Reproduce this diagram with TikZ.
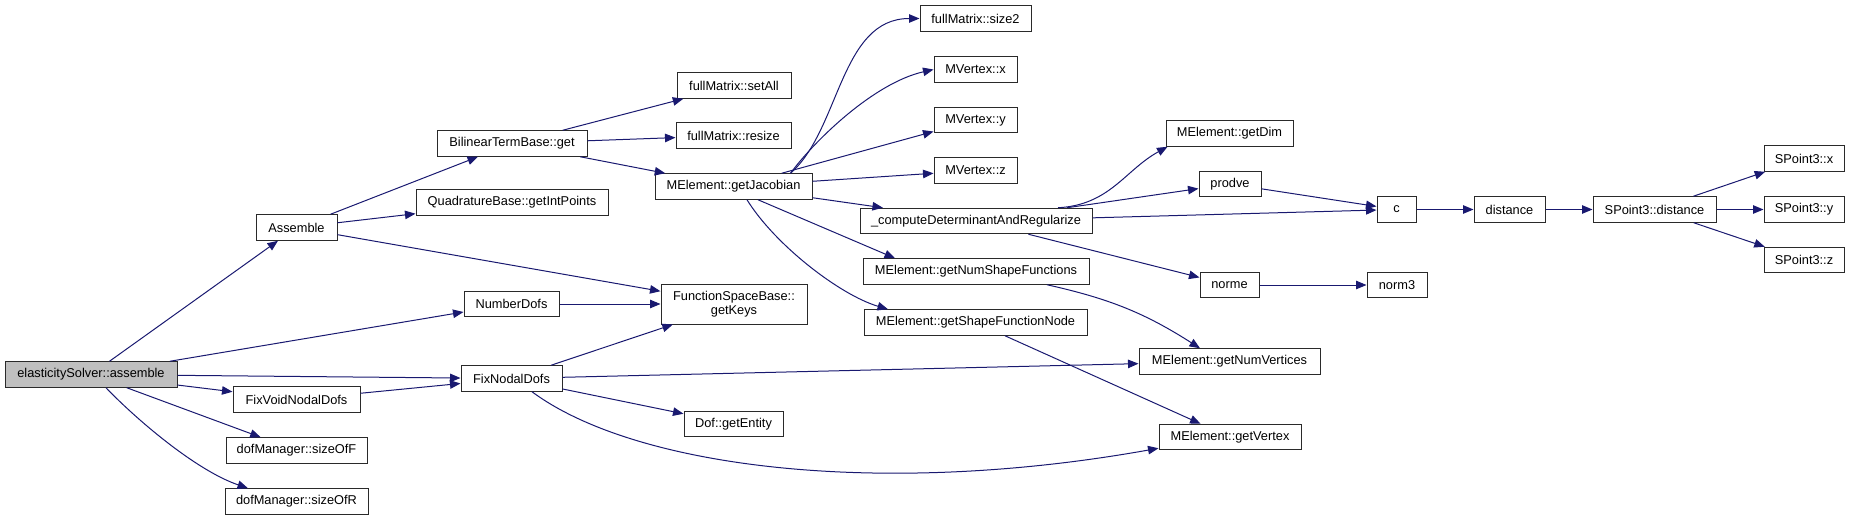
\documentclass[tikz,border=0pt]{standalone}
\usepackage{fontspec}
\setmainfont{Liberation Sans}
\usetikzlibrary{arrows.meta,calc}
\definecolor{cgEdge} {HTML}{191970}
\definecolor{cgFrame}{HTML}{2A2A2A}
\definecolor{cgRoot} {HTML}{BFBFBF}

\begin{document}
\begin{tikzpicture}[x=1pt,y=1pt,font=\fontsize{12.8}{14.5}\selectfont,
    fn/.style={draw=cgFrame,fill=white,line width=1pt,inner sep=0pt,
               minimum height=25.5pt,align=center},
    call/.style={draw=cgEdge,line width=1pt,-{Triangle[length=10.5pt,width=8.5pt]}}]
    \useasboundingbox (0,0) rectangle (1849,-520);

    % callers, left to right
    \node[fn,fill=cgRoot,minimum width=172pt] (root) at (91,-374.5) {elasticitySolver::assemble};
    \node[fn,minimum width=81pt]  (assemble) at (296.5,-227.5) {Assemble};
    \node[fn,minimum width=127pt] (fixvoid)  at (296.5,-399.5) {FixVoidNodalDofs};
    \node[fn,minimum width=141pt] (sizeF)    at (296.5,-450.5) {dofManager::sizeOfF};
    \node[fn,minimum width=143pt] (sizeR)    at (296.5,-501.5) {dofManager::sizeOfR};
    \node[fn,minimum width=150pt] (bilinear) at (512,-143.5)   {BilinearTermBase::get};
    \node[fn,minimum width=192pt] (quad)     at (512,-202.5)   {QuadratureBase::getIntPoints};
    \node[fn,minimum width=95pt]  (numdofs)  at (511.5,-304)   {NumberDofs};
    \node[fn,minimum width=101pt] (fixnodal) at (511.5,-378.5) {FixNodalDofs};
    \node[fn,minimum width=114pt] (setall)   at (734,-85.5)    {fullMatrix::setAll};
    \node[fn,minimum width=115pt] (resize)   at (733.5,-135.5) {fullMatrix::resize};
    \node[fn,minimum width=157pt] (jac)      at (733.5,-186.5) {MElement::getJacobian};
    \node[fn,minimum width=146pt,minimum height=40pt] (keys) at (734,-304) {FunctionSpaceBase::\\getKeys};
    \node[fn,minimum width=99pt]  (entity)   at (733.5,-424)   {Dof::getEntity};
    \node[fn,minimum width=111pt] (size2)    at (975.5,-18.5)  {fullMatrix::size2};
    \node[fn,minimum width=83pt]  (mvx)      at (975.5,-69.5)  {MVertex::x};
    \node[fn,minimum width=83pt]  (mvy)      at (975.5,-120)   {MVertex::y};
    \node[fn,minimum width=83pt]  (mvz)      at (975.5,-170.5) {MVertex::z};
    \node[fn,minimum width=232pt] (cdr)      at (976,-221)     {\_computeDeterminantAndRegularize};
    \node[fn,minimum width=226pt] (nsf)      at (976,-271.5)   {MElement::getNumShapeFunctions};
    \node[fn,minimum width=223pt] (sfn)      at (975.5,-322.5) {MElement::getShapeFunctionNode};
    \node[fn,minimum width=127pt] (getdim)   at (1229.5,-133.5) {MElement::getDim};
    \node[fn,minimum width=62pt]  (prodve)   at (1230,-184)    {prodve};
    \node[fn,minimum width=59pt]  (norme)    at (1229.5,-285)  {norme};
    \node[fn,minimum width=181pt] (nvert)    at (1229.5,-361.5) {MElement::getNumVertices};
    \node[fn,minimum width=142pt] (vert)     at (1230,-437)    {MElement::getVertex};
    \node[fn,minimum width=39pt]  (c)        at (1396.5,-209.5) {c};
    \node[fn,minimum width=60pt]  (norm3)    at (1397,-285)    {norm3};
    \node[fn,minimum width=71pt]  (dist)     at (1509.5,-209.5) {distance};
    \node[fn,minimum width=123pt] (spdist)   at (1654.5,-209.5) {SPoint3::distance};
    \node[fn,minimum width=80pt]  (spx)      at (1804,-158.5)  {SPoint3::x};
    \node[fn,minimum width=80pt]  (spy)      at (1804,-209.5)  {SPoint3::y};
    \node[fn,minimum width=80pt]  (spz)      at (1804,-260)    {SPoint3::z};

    % calls
    \draw[call] (root) -- (assemble);
    \draw[call] (root) -- (numdofs);
    \draw[call] (root) -- (fixnodal);
    \draw[call] (root) -- (fixvoid);
    \draw[call] (root) -- (sizeF);
    \draw[call] ([xshift=15pt]root.south) .. controls (135,-418) and (195,-470) .. ([xshift=-48.5pt]sizeR.north);
    \draw[call] (assemble) -- (bilinear);
    \draw[call] (assemble) -- (quad);
    \draw[call] (assemble) -- (keys);
    \draw[call] (bilinear) -- (setall);
    \draw[call] (bilinear) -- (resize);
    \draw[call] (bilinear) -- (jac);
    \draw[call] ([xshift=-22pt]jac.north east) .. controls (840,-130) and (840,-18.5) .. (size2.west);
    \draw[call] ([xshift=-22pt]jac.north east) .. controls (815,-140) and (874,-83) .. (mvx.west);
    \draw[call] (jac) -- (mvy);
    \draw[call] (jac) -- (mvz);
    \draw[call] (jac) -- (cdr);
    \draw[call] ([xshift=24.5pt]jac.south) -- ([xshift=-81pt]nsf.north);
    \draw[call] ([xshift=13.5pt]jac.south) .. controls (775,-245) and (840,-295) .. ([xshift=-87.5pt]sfn.north);
    \draw[call] ([xshift=82pt]cdr.north) .. controls (1110,-205) and (1125,-170) .. ([xshift=2pt]getdim.south west);
    \draw[call] (cdr) -- (prodve);
    \draw[call] (cdr) -- (c);
    \draw[call] (cdr) -- (norme);
    \draw[call] (prodve) -- (c);
    \draw[call] (c) -- (dist);
    \draw[call] (dist) -- (spdist);
    \draw[call] (spdist) -- (spx);
    \draw[call] (spdist) -- (spy);
    \draw[call] (spdist) -- (spz);
    \draw[call] (norme) -- (norm3);
    \draw[call] ([xshift=71pt]nsf.south) to[bend left=10] ([xshift=-29.5pt]nvert.north);
    \draw[call] (sfn) -- (vert);
    \draw[call] (numdofs) -- (keys);
    \draw[call] (fixnodal) -- (keys);
    \draw[call] (fixnodal) -- (nvert);
    \draw[call] (fixnodal) -- (entity);
    \draw[call] ([xshift=20.5pt]fixnodal.south) .. controls (635,-468) and (880,-498) .. ([yshift=2pt]vert.south west);
    \draw[call] (fixvoid) -- (fixnodal);
\end{tikzpicture}
\end{document}
